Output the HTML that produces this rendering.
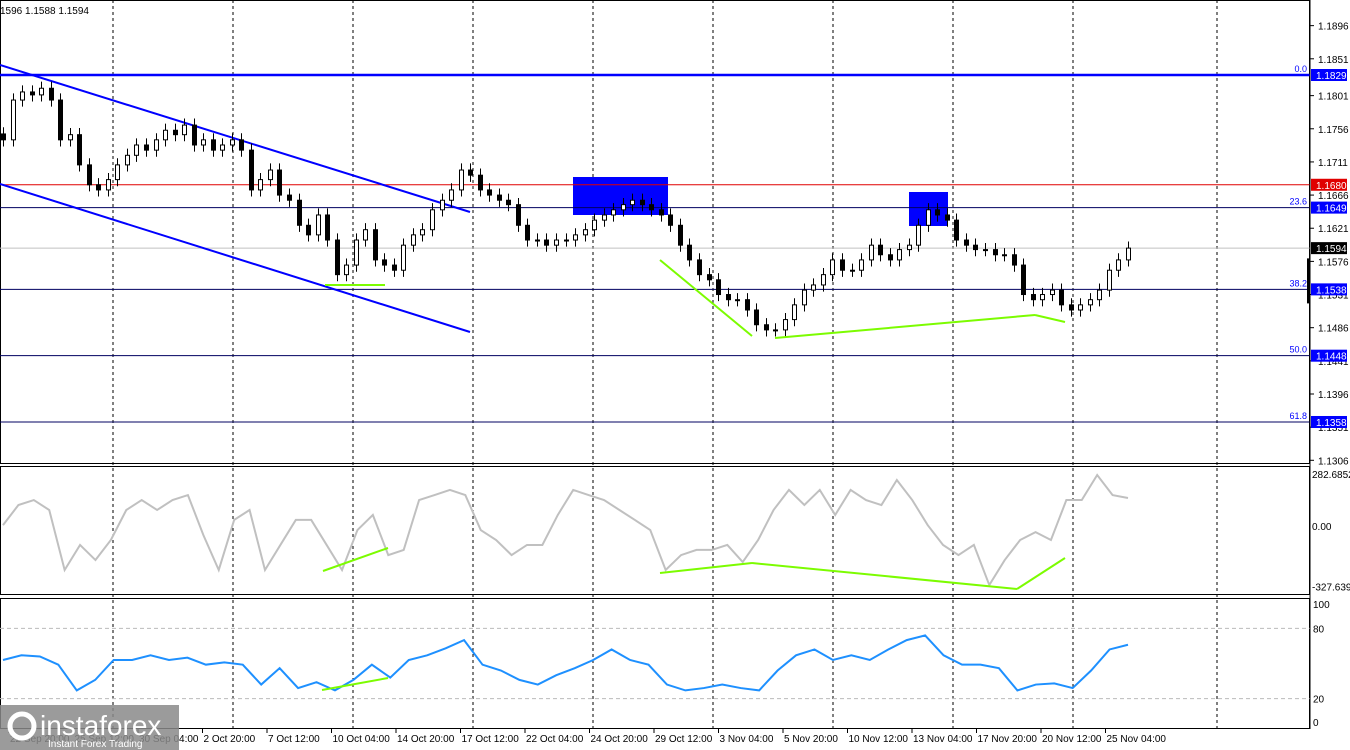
<!DOCTYPE html>
<html><head><meta charset="utf-8"><style>
html,body{margin:0;padding:0;background:#fff;}
svg{display:block;font-family:"Liberation Sans",sans-serif;}
</style></head><body>
<svg id="c" width="1350" height="750" xmlns="http://www.w3.org/2000/svg"></svg>
<script>
const closes=[1.1741,1.1795,1.1806,1.1802,1.1811,1.1795,1.1741,1.1748,1.1707,1.1680,1.1673,1.1687,1.1707,1.1720,1.1734,1.1727,1.1741,1.1754,1.1748,1.1761,1.1734,1.1741,1.1727,1.1734,1.1741,1.1727,1.1673,1.1687,1.1700,1.1666,1.1659,1.1625,1.1612,1.1639,1.1605,1.1558,1.1571,1.1605,1.1619,1.1578,1.1571,1.1564,1.1598,1.1612,1.1619,1.1646,1.1659,1.1673,1.1700,1.1693,1.1673,1.1666,1.1659,1.1653,1.1625,1.1605,1.1605,1.1598,1.1605,1.1605,1.1612,1.1619,1.1632,1.1639,1.1646,1.1653,1.1659,1.1653,1.1646,1.1639,1.1625,1.1598,1.1578,1.1558,1.1551,1.1531,1.1524,1.1524,1.1510,1.1490,1.1483,1.1483,1.1497,1.1517,1.1537,1.1544,1.1558,1.1578,1.1564,1.1564,1.1578,1.1598,1.1585,1.1578,1.1592,1.1598,1.1625,1.1646,1.1639,1.1632,1.1605,1.1598,1.1592,1.1592,1.1585,1.1585,1.1571,1.1531,1.1524,1.1531,1.1537,1.1517,1.1510,1.1517,1.1524,1.1537,1.1564,1.1578,1.1594];
const cciValues=[5,114,141,87,-239,-103,-185,-76,87,141,87,141,168,-49,-239,33,87,-239,-103,33,33,-103,-239,-22,60,-158,-130,141,168,196,168,-22,-76,-158,-103,-103,60,196,168,141,87,33,-22,-239,-158,-130,-130,-103,-196,-76,87,196,114,196,60,196,141,114,250,141,5,-103,-158,-103,-321,-185,-76,-33,-76,141,141,277,168,152];
const rsiValues=[53,57,56,49,27,36,53,53,57,53,55,49,51,49,32,46,29,34,27,36,49,38,53,57,63,70,49,44,36,32,40,46,53,62,53,49,32,27,29,32,29,27,44,57,62,53,57,53,62,70,74,57,49,49,46,27,32,33,29,44,62,66];
const priceTicks=[1.1896,1.1851,1.1801,1.1756,1.1711,1.1666,1.1621,1.1576,1.1531,1.1486,1.1441,1.1396,1.1351,1.1306];
const timeLabels=["22 Sep 20:00","25 Sep 12:00","30 Sep 04:00","2 Oct 20:00","7 Oct 12:00","10 Oct 04:00","14 Oct 20:00","17 Oct 12:00","22 Oct 04:00","24 Oct 20:00","29 Oct 12:00","3 Nov 04:00","5 Nov 20:00","10 Nov 12:00","13 Nov 04:00","17 Nov 20:00","20 Nov 12:00","25 Nov 04:00"];
const fibLevels=[["0.0",1.1829],["23.6",1.1649],["38.2",1.1538],["50.0",1.1448],["61.8",1.1358]];

const NS="http://www.w3.org/2000/svg";const svg=document.getElementById('c');
function el(t,a,p){const e=document.createElementNS(NS,t);for(const k in a)e.setAttribute(k,a[k]);(p||svg).appendChild(e);return e;}
const yP=p=>75+(1.1829-p)*7367;
const yC=v=>526-v*0.184;
const yR=v=>722-v*1.17;
const xI=(i,n)=>3+i*(1125/(n-1));
const R=1310;
[113,233,353,473,593,713,833,953,1073,1217].forEach(x=>{const g=el('line',{x1:x,x2:x,y1:0,y2:729,stroke:'#000','stroke-dasharray':'3,3','stroke-width':1});
});
[[0,0,464],[0,466,595],[0,598,729]].forEach(([a,t,b])=>{const r=el('rect',{x:0.5,y:t+0.5,width:R-1,height:b-t-1,fill:'none',stroke:'#000'});
});
[80,20].forEach(v=>{const l=el('line',{x1:0,x2:R,y1:yR(v),y2:yR(v),stroke:'#bbb','stroke-dasharray':'4,3'});
});
[[573,177,95,38],[909,192,39,34]].forEach(b=>{const r=el('rect',{x:b[0],y:b[1],width:b[2],height:b[3],fill:'#0000ff'});
});
const red=el('line',{x1:0,x2:R,y1:yP(1.1680),y2:yP(1.1680),stroke:'#e00000'});

const gr=el('line',{x1:0,x2:R,y1:yP(1.1594),y2:yP(1.1594),stroke:'#c0c0c0'});

fibLevels.forEach(([n,v],i)=>{const y=yP(v);
const l=el('line',{x1:0,x2:R,y1:y,y2:y,stroke:i==0?'#0000ff':'#000060','stroke-width':i==0?2.5:1});

const t=el('text',{x:1307,y:y-3,'font-size':9,fill:'#0000ff','text-anchor':'end'});t.textContent=n;
});
[[0,65,470,212],[0,184,470,332]].forEach(c=>{const l=el('line',{x1:c[0],y1:c[1],x2:c[2],y2:c[3],stroke:'#0000ff','stroke-width':2});
});
const n=closes.length;
for(let i=0;i<n;i++){const o=i?closes[i-1]:closes[0]+0.0008,c=closes[i];const x=Math.round(xI(i,n))+0.5;
const hi=Math.max(o,c)+0.0009,lo=Math.min(o,c)-0.0009;
const g=el('g',{});
el('line',{x1:x,x2:x,y1:yP(hi),y2:yP(lo),stroke:'#000'},g);
const t=Math.min(yP(o),yP(c)),h=Math.max(1,Math.abs(yP(o)-yP(c)));
el('rect',{x:x-2,y:t,width:4,height:h,fill:c>=o?'#fff':'#000',stroke:'#000','stroke-width':1},g);}
function poly(arr,fy,col,w,name){const pts=arr.map((v,i)=>xI(i,arr.length)+','+fy(v)).join(' ');
const p=el('polyline',{points:pts,fill:'none',stroke:col,'stroke-width':w});}
poly(cciValues,yC,'#c0c0c0',2,'cci-line');
poly(rsiValues,yR,'#1e90ff',2,'rsi-line');
[[325,285,385,285],[660,260,752,336],[775,338,1035,315],[1035,315,1065,322],[323,571,388,548],[660,573,752,563],[752,563,1017,589],[1017,589,1065,558],[322,690,388,678]].forEach(c=>{
const l=el('line',{x1:c[0],y1:c[1],x2:c[2],y2:c[3],stroke:'#7cfc00','stroke-width':2});
});
const ax=el('line',{x1:R,x2:R,y1:0,y2:729,stroke:'#000'});
priceTicks.forEach(v=>{const y=yP(v);el('line',{x1:R,x2:R+4,y1:y,y2:y,stroke:'#000'});
const t=el('text',{x:1318,y:y+4,'font-size':10,fill:'#000'});t.textContent=v.toFixed(4);
});
function tag(v,col,name){const y=yP(v);const r=el('rect',{x:1311,y:y-6,width:36,height:12,fill:col});

const t=el('text',{x:1316,y:y+4,'font-size':10,fill:'#fff'});t.textContent=v.toFixed(4);}
fibLevels.forEach(([n,v])=>tag(v,'#0000ff','fib-price-tag'));
tag(1.1680,'#e00000','red-price-tag');tag(1.1594,'#000','bid-price-tag');
el('rect',{x:1307,y:yP(1.1576)-3,width:3,height:45,fill:'#000'});
[['282.6852',yC(282.6852)],['0.00',yC(0)],['-327.6390',yC(-327.639)]].forEach(a=>{
const t=el('text',{x:1312,y:a[1]+4,'font-size':10,fill:'#000'});t.textContent=a[0];});
[100,80,20,0].forEach(v=>{const t=el('text',{x:1313,y:yR(v)+4+(v==100?-1:0),'font-size':10,fill:'#000'});t.textContent=v;
});
timeLabels.forEach((s,i)=>{const x=10+i*64.5;el('line',{x1:x-1,x2:x-1,y1:729,y2:733,stroke:'#000'});
const t=el('text',{x:x,y:742,'font-size':10,fill:'#000'});t.textContent=s;});
const hdr=el('text',{x:0,y:14,'font-size':10,fill:'#000'});hdr.textContent='1596 1.1588 1.1594';
const lg=el('g',{});
el('rect',{x:0,y:705,width:179,height:45,fill:'#8a8a8a','fill-opacity':0.85},lg);
el('circle',{cx:22,cy:726,r:12,fill:'none',stroke:'#fff','stroke-width':5},lg);
const lt=el('text',{x:40,y:735,'font-size':28,fill:'#fff'},lg);lt.textContent='instaforex';
const ls=el('text',{x:48,y:747,'font-size':10,fill:'#fff'},lg);ls.textContent='Instant Forex Trading';
</script>
</body></html>
